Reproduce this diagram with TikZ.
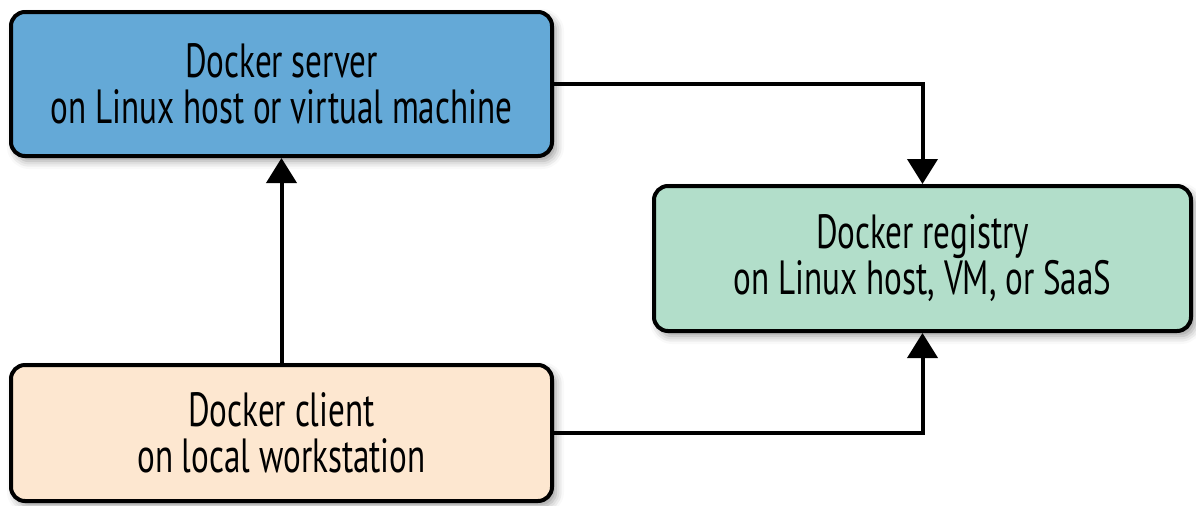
\documentclass[tikz,border=0pt]{standalone}
\usepackage{fontspec}
\setmainfont{PT Sans}[FakeStretch=0.69]
\usetikzlibrary{positioning, arrows.meta, shadows.blur}

\definecolor{serverblue}{RGB}{100,169,215}
\definecolor{registrygreen}{RGB}{178,222,202}
\definecolor{clientpeach}{RGB}{253,231,208}

\begin{document}
\begin{tikzpicture}[
        every node/.style={
            draw, line width=2pt, rounded corners=7pt, align=center,
            font=\fontsize{24}{23}\selectfont,
            minimum width=270.5pt,
            blur shadow={shadow xshift=2pt, shadow yshift=-2.5pt,
                shadow blur radius=4pt, shadow opacity=40}
        },
        link/.style={line width=2pt, -{Triangle[width=15pt, length=12.5pt]}}
      ]
        \useasboundingbox (0,0) rectangle (598pt,-252.5pt);
        \node[fill=serverblue, minimum height=72pt] (server) at (140.75pt,-42pt)
            {Docker server \\ on Linux host or virtual machine};
        \node[fill=clientpeach, minimum height=68pt, below=102.5pt of server] (client)
            {Docker client \\ on local workstation};
        \node[fill=registrygreen, minimum width=268.5pt, minimum height=72.5pt,
              below right=13pt and 49pt of server.south east, anchor=north west] (registry)
            {Docker registry \\ on Linux host, VM, or SaaS};

        \draw[link] (client) -- (server);
        \draw[link] (server) -| (registry);
        \draw[link] (client) -| (registry);
      \end{tikzpicture}
\end{document}
